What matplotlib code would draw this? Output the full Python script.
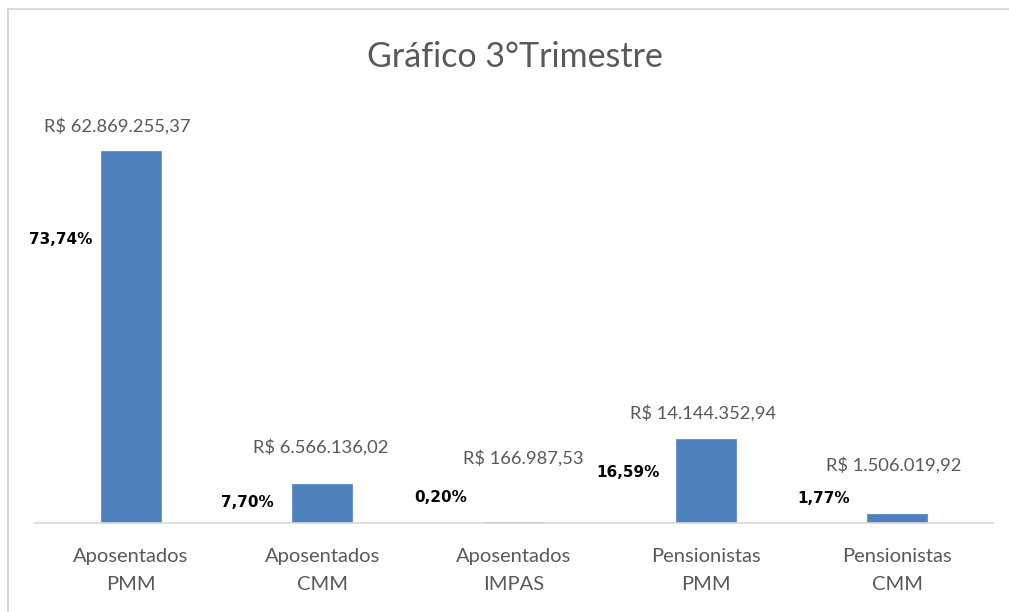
import matplotlib
matplotlib.use("Agg")
import matplotlib.pyplot as plt
from matplotlib.patches import Rectangle

categories = ["Aposentados\nPMM", "Aposentados\nCMM", "Aposentados\nIMPAS",
              "Pensionistas\nPMM", "Pensionistas\nCMM"]
values = [62869255.37, 6566136.02, 166987.53, 14144352.94, 1506019.92]
value_labels = ["R$ 62.869.255,37", "R$ 6.566.136,02", "R$ 166.987,53",
                "R$ 14.144.352,94", "R$ 1.506.019,92"]
pct_labels = ["73,74%", "7,70%", "0,20%", "16,59%", "1,77%"]

# label offsets (pixels) relative to bar top
val_off = [(-13, 25), (-2, 37), (9, 64), (-3, 26), (-3, 49)]
pct_off = [(-70, -89), (-75, -18), (-73, 25), (-78, -33), (-74, 16)]

W, H = 1009, 612
fig = plt.figure(figsize=(W / 100, H / 100), dpi=100)
fig.patch.set_facecolor("white")

# chart border
fig.patches.append(Rectangle((8 / W, -0.05), 1.2, 1 - 9 / H + 0.05,
                             transform=fig.transFigure, fill=False,
                             edgecolor="#D9D9D9", linewidth=1.5))

left, right = 35 / W, 993 / W
bottom = 1 - 523 / H
ymax = 70e6
height_px = ymax / values[0] * (523 - 151)
ax = fig.add_axes([left, bottom, right - left, height_px / H])
x = list(range(len(categories)))
ax.bar(x, values, width=0.313, color="#4F81BD", edgecolor="#5B8CC8", linewidth=0.6)
ax.set_xlim(-0.5, len(categories) - 0.5)
ax.set_ylim(0, ymax)
for s in ["top", "right", "left"]:
    ax.spines[s].set_visible(False)
ax.spines["bottom"].set_color("#D9D9D9")
ax.spines["bottom"].set_linewidth(1.2)
ax.set_yticks([])
ax.set_xticks(x)
ax.set_xticklabels(categories, fontsize=14.5, color="#595959", family="Lato",
                   linespacing=1.75)
ax.tick_params(axis="x", length=0, pad=18)

for i, v in enumerate(values):
    ax.annotate(value_labels[i], (x[i], v), xytext=val_off[i], textcoords="offset pixels",
                ha="center", va="center", fontsize=13.2, color="#595959", family="Lato")
    ax.annotate(pct_labels[i], (x[i], v), xytext=pct_off[i], textcoords="offset pixels",
                ha="center", va="center", fontsize=11, color="black",
                fontweight="bold", family="DejaVu Sans")

fig.text(515 / W, 1 - 57 / H, "Gráfico 3°Trimestre", ha="center", va="center",
         fontsize=24.5, color="#595959", family="Lato")

fig.savefig("out.png", dpi=100)
